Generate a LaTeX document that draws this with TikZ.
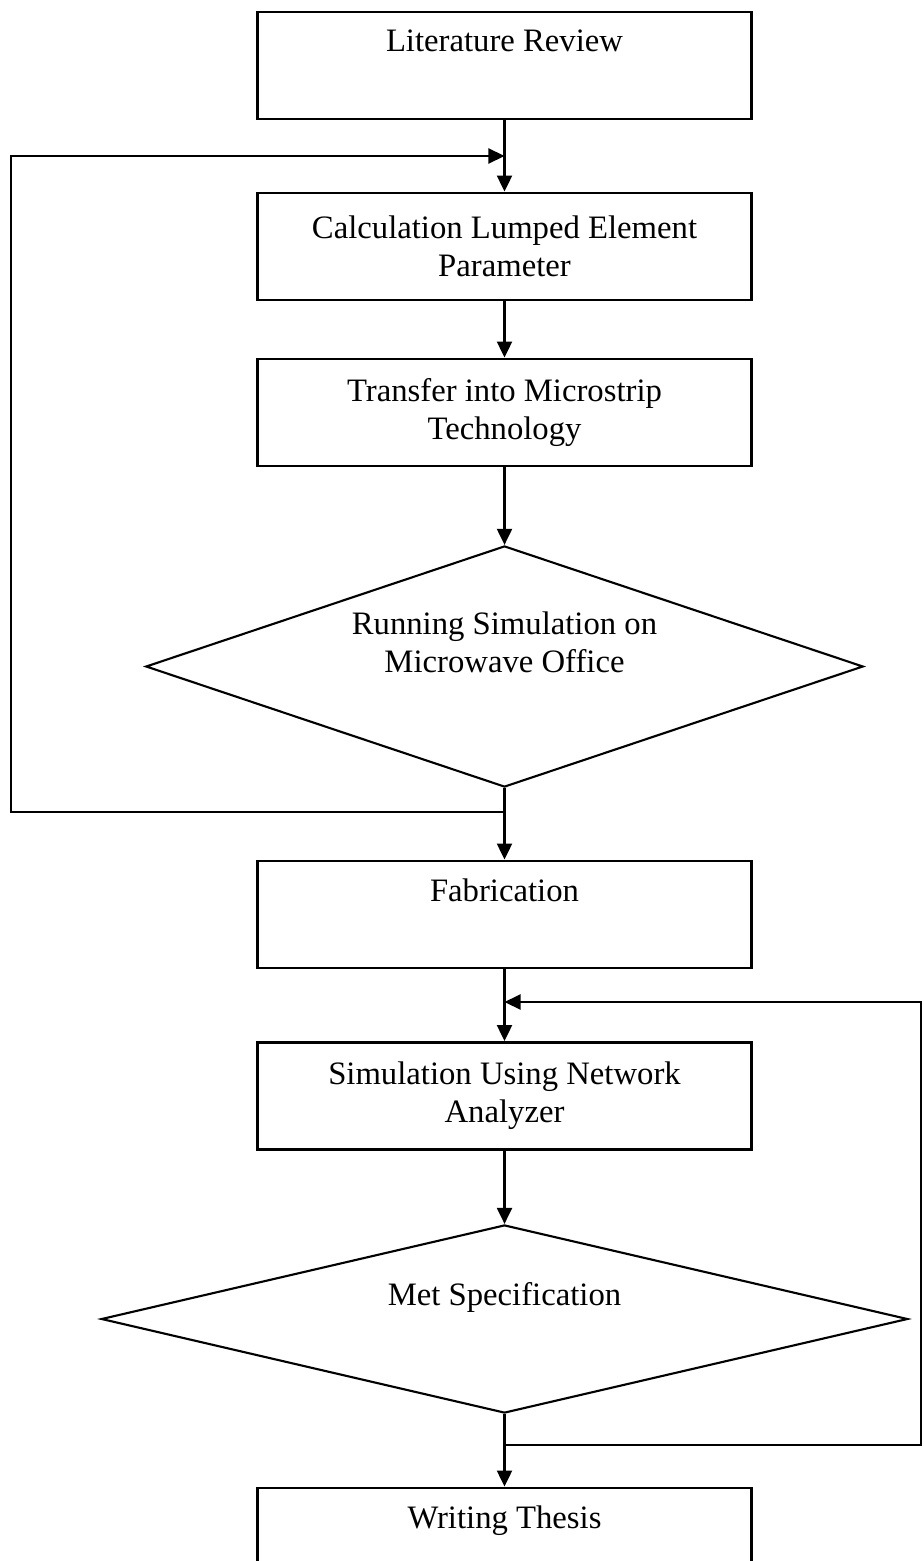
\documentclass[tikz,border=0pt]{standalone}
\usepackage{fontspec}
\setmainfont{Liberation Serif}
\usetikzlibrary{shapes.geometric,arrows.meta}

\begin{document}
\begin{tikzpicture}[x=0.01cm,y=-0.01cm]
	\tikzstyle{every node}=[font=\fontsize{9.3}{10.8}\selectfont, align=center];
	\tikzstyle{box}=[draw, line width=0.8pt, fill=white, minimum width=4.93cm, minimum height=1.07cm];
	\tikzstyle{decision}=[draw, diamond, line width=0.6pt, inner sep=0pt];
	\tikzstyle{arr}=[line width=0.6pt, -{Triangle[length=0.16cm,width=0.15cm]}];
	\clip (0,0) rectangle (923,1561);
	\fill[white] (0,0) rectangle (923,1561);
	\path (504.5,65.5) node[box] (v0) {Literature Review\\ \strut};
	\path (504.5,246.5) node[box] (v1) {Calculation Lumped Element\\Parameter};
	\path (504.5,412.5) node[box] (v2) {Transfer into Microstrip\\Technology};
	\path (504.5,666.5) node[decision, minimum width=7.17cm, minimum height=2.41cm, aspect=2.97] (v3) {Running Simulation on\\Microwave Office\\ \strut};
	\path (504.5,914.5) node[box] (v4) {Fabrication\\ \strut};
	\path (504.5,1096) node[box] (v5) {Simulation Using Network\\Analyzer};
	\path (504.5,1319) node[decision, minimum width=8.06cm, minimum height=1.88cm, aspect=4.29] (v6) {Met Specification\\ \strut};
	\path (504.5,1541.5) node[box] (v7) {Writing Thesis\\ \strut};
	\coordinate (v8) at (11,812);
	\coordinate (v9) at (11,156);
	\coordinate (v10) at (921,1445);
	\coordinate (v11) at (921,1002);
	\draw[arr] (v0) -- (v1);
	\draw[arr] (v1) -- (v2);
	\draw[arr] (v2) -- (v3);
	\draw[arr] (v3) -- (v4);
	\draw[arr] (v4) -- (v5);
	\draw[arr] (v5) -- (v6);
	\draw[arr] (v6) -- (v7);
	\draw[arr] (v3.south |- v8) -- (v8) -- (v9) -- (v0.south |- v9);
	\draw[arr] (v6.south |- v10) -- (v10) -- (v11) -- (v4.south |- v11);
\end{tikzpicture}
\end{document}
